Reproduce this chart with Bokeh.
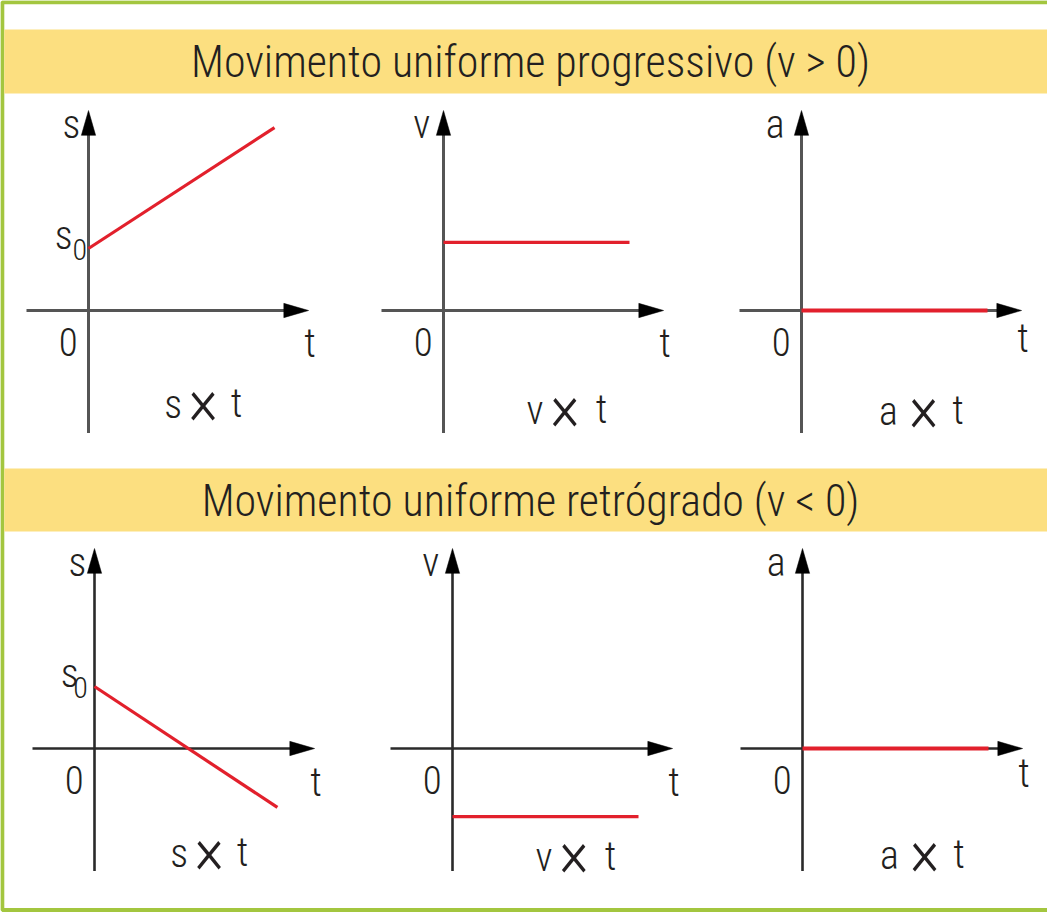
from bokeh.plotting import figure
from bokeh.embed import file_html
from bokeh.resources import INLINE
from bokeh.models import Range1d, Label

# ---- content -------------------------------------------------------------
titles = ["Movimento uniforme progressivo (v > 0)",
          "Movimento uniforme retrógrado (v < 0)"]

# each graph: quantity on the vertical axis and the plotted values
quantities = ["s", "v", "a", "s", "v", "a"]

# progressive motion (v > 0)
t_s_prog = [0, 6.0]
s_prog = [2.0, 5.9]
t_v_prog = [0, 6.0]
v_prog = [2.2, 2.2]
t_a_prog = [0, 6.0]
a_prog = [0, 0]

# retrograde motion (v < 0)
t_s_retro = [0, 5.9]
s_retro = [2.0, -1.9]
t_v_retro = [0, 6.0]
v_retro = [-2.2, -2.2]
t_a_retro = [0, 6.0]
a_retro = [0, 0]

series = [(t_s_prog, s_prog), (t_v_prog, v_prog), (t_a_prog, a_prog),
          (t_s_retro, s_retro), (t_v_retro, v_retro), (t_a_retro, a_retro)]
has_s0 = [True, False, False, True, False, False]
s0_value = 2.0

# ---- layout --------------------------------------------------------------
W, H = 1047, 913
K = 31.0  # pixels per unit in every small graph
origins = [(88, 310), (443, 310), (801, 310), (94, 748), (452, 748), (802, 748)]
x_axis_span = (-2.0, 7.1)
y_axis_span = (-3.95, 6.45)
name_dx = {"s": -0.55, "v": -0.7, "a": -0.85}
t_label_y = [-1.05, -1.05, -0.9, -1.1, -1.1, -0.8]
caption_y = [-3.03, -3.22, -3.27, -3.38, -3.5, -3.45]
# caption pieces (quantity, "×", "t") per quantity
caption_x = {"s": (2.73, 3.7, 4.78), "v": (2.95, 3.92, 5.1), "a": (2.8, 3.94, 5.05)}
s0_sub_dx = [-0.28, None, None, -0.45, None, None]

FONT = "Roboto Condensed Light, Roboto Condensed"
INK = "#231f20"
RED = "#e2202c"
YELLOW = "#fcdf80"
GREEN = "#a3c63f"

p = figure(width=W, height=H, x_range=Range1d(0, W), y_range=Range1d(H, 0),
           output_backend="svg", toolbar_location=None,
           x_axis_type=None, y_axis_type=None, min_border=0)
p.grid.visible = False
p.outline_line_color = None
p.background_fill_color = "white"
p.border_fill_color = "white"

# frame and title bands
p.quad(left=[1.8], right=[W + 20], top=[1.8], bottom=[909.5],
       fill_color=None, line_color=GREEN, line_width=4)
p.quad(left=[3.8, 3.8], right=[W + 20, W + 20], top=[29, 468], bottom=[93, 531],
       fill_color=YELLOW, line_color=None)
for title, yc in zip(titles, [61, 500]):
    p.add_layout(Label(x=530, y=yc, text=title, text_font=FONT, text_font_size="44px",
                       text_color=INK, text_align="center", text_baseline="middle"))

# small graphs, each with its own scales
for i, ((ox, oy), (tv, yv), q) in enumerate(zip(origins, series, quantities)):
    xr, yr = f"gx{i}", f"gy{i}"
    p.extra_x_ranges[xr] = Range1d(-ox / K, (W - ox) / K)
    p.extra_y_ranges[yr] = Range1d((oy - H) / K, oy / K)
    kw = dict(x_range_name=xr, y_range_name=yr)
    axis_col = "#555555" if i < 3 else "#2a2a2a"
    axis_w = 3 if i < 3 else 2.6

    x0, x1 = x_axis_span
    y0, y1 = y_axis_span
    p.line([x0, x1 - 0.5], [0, 0], line_color=axis_col, line_width=axis_w, **kw)
    p.line([0, 0], [y0, y1 - 0.5], line_color=axis_col, line_width=axis_w, **kw)
    # arrow heads
    hl, hw = 0.8, 0.23
    p.patch([x1, x1 - hl, x1 - hl], [0, hw, -hw], fill_color="black",
            line_color="black", line_width=0.5, **kw)
    p.patch([0, hw, -hw], [y1, y1 - hl, y1 - hl], fill_color="black",
            line_color="black", line_width=0.5, **kw)

    # the motion graph
    p.line(tv, yv, line_color=RED, line_width=3.2 if q != "a" else 3.8, **kw)

    # labels
    lab = dict(text_font=FONT, text_color=INK, text_align="center",
               text_baseline="middle", **kw)
    p.add_layout(Label(x=name_dx[q], y=6.0, text=q, text_font_size="40px", **lab))
    p.add_layout(Label(x=-0.65, y=-1.0, text="0", text_font_size="39px", **lab))
    p.add_layout(Label(x=7.15, y=t_label_y[i], text="t", text_font_size="40px", **lab))
    cy = caption_y[i]
    qx, xx, tx = caption_x[q]
    p.add_layout(Label(x=qx, y=cy, text=q, text_font_size="40px", **lab))
    p.add_layout(Label(x=xx, y=cy + 0.1, text="×", text_font_size="66px", **lab))
    p.add_layout(Label(x=tx, y=cy + 0.03, text="t", text_font_size="40px", **lab))
    if has_s0[i]:
        p.add_layout(Label(x=-0.8, y=s0_value + 0.42, text="s",
                           text_font_size="40px", **lab))
        p.add_layout(Label(x=s0_sub_dx[i], y=s0_value - 0.03, text="0",
                           text_font_size="30px", **lab))

open("out.html", "w").write(file_html(p, INLINE))
